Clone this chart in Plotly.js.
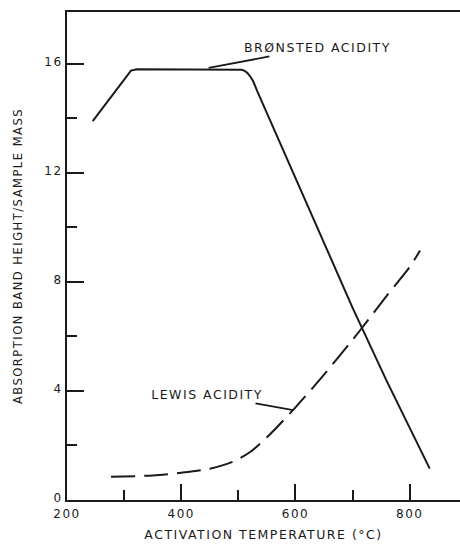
<!DOCTYPE html>
<html>
<head>
<meta charset="utf-8">
<script src="https://cdn.plot.ly/plotly-3.0.1.min.js"></script>
<style>
html,body{margin:0;padding:0;background:#fff;}
#chart{width:460px;height:544px;}
#chart text{letter-spacing:1.5px;}
</style>
</head>
<body>
<div id="chart"></div>
<script>
// Brønsted acidity (solid)
const bronstedTemp = [245, 270, 295, 305, 312, 322, 400, 500, 506, 511, 515.5, 520, 526, 533, 617, 700, 760, 835];
const bronstedVal  = [13.9, 14.6, 15.3, 15.6, 15.75, 15.8, 15.8, 15.8, 15.78, 15.74, 15.67, 15.56, 15.36, 15.0, 11.0, 7.05, 4.35, 1.15];
// Lewis acidity (dashed)
const lewisTemp = [277, 350, 400, 450, 490, 520, 550, 600, 650, 716, 760, 800, 818];
const lewisVal  = [0.85, 0.9, 1.0, 1.15, 1.4, 1.75, 2.3, 3.4, 4.6, 6.3, 7.5, 8.55, 9.15];
const xTickVals = [200, 400, 600, 800];
const xTickText = ['200', '400', '600', '800'];
const yTickVals = [0, 4, 8, 12, 16];
const yTickText = ['0', '4', '8', '12', '16'];

const ink = '#1a1a1a';
const fontFam = 'DejaVu Sans, Liberation Sans, sans-serif';

const traces = [
  {x: bronstedTemp, y: bronstedVal, mode: 'lines', line: {color: ink, width: 2}, hoverinfo: 'skip'},
  {x: lewisTemp, y: lewisVal, mode: 'lines', line: {color: ink, width: 2, dash: '24px,9px', shape: 'spline', smoothing: 0.8}, hoverinfo: 'skip'}
];

const layout = {
  width: 460, height: 544,
  margin: {l: 67, r: 0, t: 12, b: 44},
  paper_bgcolor: '#fff', plot_bgcolor: '#fff',
  showlegend: false,
  font: {family: fontFam, color: ink, size: 12},
  xaxis: {
    range: [200, 888], showgrid: false, zeroline: false,
    showline: true, linecolor: ink, linewidth: 2, mirror: true,
    ticks: 'inside', ticklen: 16, tickwidth: 2, tickcolor: ink,
    tickvals: xTickVals, ticktext: xTickText,
    tickfont: {family: fontFam, size: 12, color: ink},
    ticklabelstandoff: 2,
    minor: {dtick: 100, tick0: 300, ticks: 'inside', ticklen: 10, tickwidth: 2, tickcolor: ink, showgrid: false},
    title: {text: 'ACTIVATION TEMPERATURE (°C)', font: {family: fontFam, size: 12.5, color: ink}, standoff: 10}
  },
  yaxis: {
    range: [0, 17.9], showgrid: false, zeroline: false,
    showline: true, linecolor: ink, linewidth: 2, mirror: false,
    ticks: 'inside', ticklen: 17, tickwidth: 2, tickcolor: ink,
    tickvals: yTickVals, ticktext: yTickText,
    tickfont: {family: fontFam, size: 12, color: ink},
    ticklabelshift: -2,
    minor: {dtick: 4, tick0: 2, ticks: 'inside', ticklen: 10, tickwidth: 2, tickcolor: ink, showgrid: false},
    title: {text: 'ABSORPTION BAND HEIGHT/SAMPLE MASS', font: {family: fontFam, size: 11.5, color: ink}, standoff: 22}
  },
  annotations: [
    {x: 448, y: 15.85, xref: 'x', yref: 'y', ax: 638, ay: 16.6, axref: 'x', ayref: 'y',
     text: 'BRØNSTED ACIDITY', showarrow: true, arrowhead: 0, arrowwidth: 1.8, arrowcolor: ink,
     font: {family: fontFam, size: 12.5, color: ink}},
    {x: 596, y: 3.3, xref: 'x', yref: 'y', ax: 446, ay: 3.86, axref: 'x', ayref: 'y',
     text: 'LEWIS ACIDITY', showarrow: true, arrowhead: 0, arrowwidth: 1.8, arrowcolor: ink,
     font: {family: fontFam, size: 12.5, color: ink}}
  ]
};

Plotly.newPlot('chart', traces, layout, {staticPlot: true, displayModeBar: false});
</script>
</body>
</html>
